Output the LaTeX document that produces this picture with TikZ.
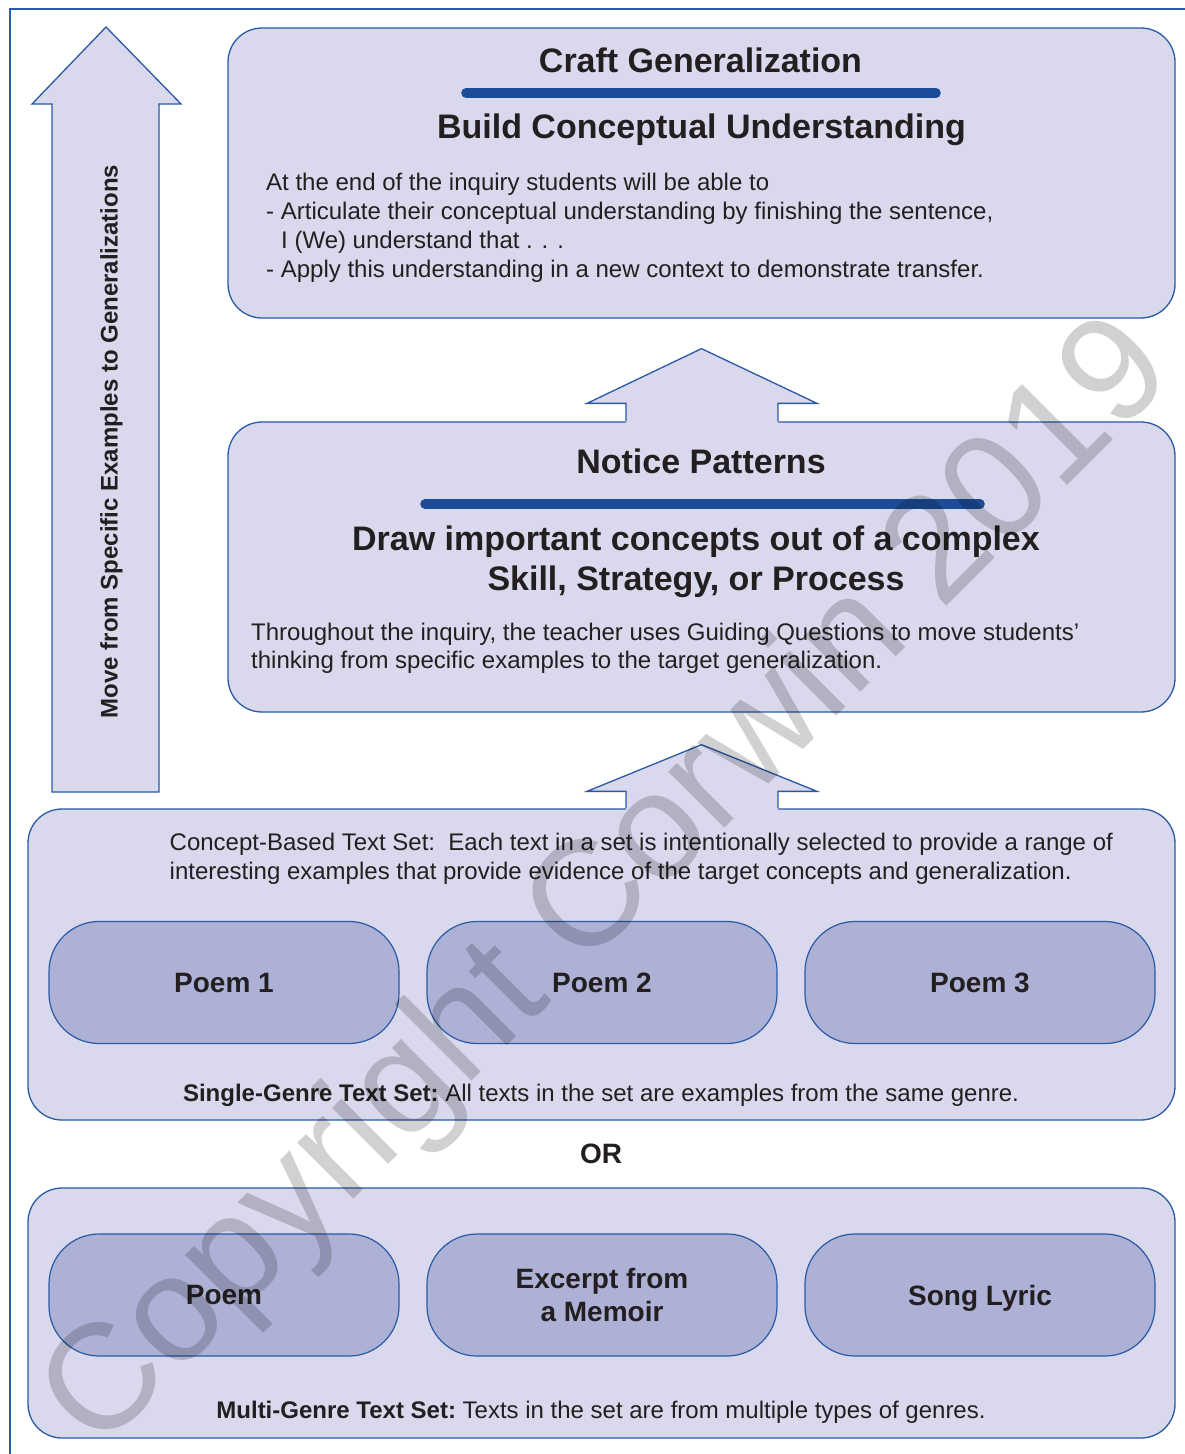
\documentclass[tikz,border=0pt]{standalone}
\usepackage{fontspec}
\setmainfont{Liberation Sans}
\usetikzlibrary{calc}
\definecolor{lav}{RGB}{217,216,236}
\definecolor{pillc}{RGB}{174,177,214}
\definecolor{bblue}{RGB}{40,90,165}
\definecolor{barblue}{RGB}{28,76,152}
\definecolor{txt}{RGB}{35,31,32}
\begin{document}
\begin{tikzpicture}[x=1pt,y=-1pt,
  box/.style={draw=bblue, fill=lav, line width=1.3pt, rounded corners=34pt, inner sep=0pt},
  pill/.style={draw=bblue, fill=pillc, line width=1.2pt, rounded corners=50pt,
     minimum width=350pt, minimum height=122pt, inner sep=0pt, text=txt,
     font=\bfseries\fontsize{28}{33}\selectfont, align=center},
  edge/.style={draw=bblue, line width=1.3pt},
  bar/.style={draw=barblue, line width=9.6pt, line cap=round},
  body/.style={text=txt, inner sep=0pt, font=\fontsize{24}{29}\selectfont},
  head/.style={text=txt, inner sep=0pt, font=\bfseries\fontsize{34}{40}\selectfont},
  sub/.style={text=txt, inner sep=0pt, font=\bfseries\fontsize{28}{33}\selectfont}]
\useasboundingbox (0,0) rectangle (1184,1454);
\fill[white] (0,0) rectangle (1184,1454);
% outer frame
\draw[draw=bblue, line width=2.6pt] (10,1470) -- (10,9) -- (1200,9);

% left big arrow
\draw[edge, fill=lav] (52,792) -- (52,104) -- (32,104) -- (106,27) -- (181,104) -- (159,104) -- (159,792) -- cycle;
\node[text=txt, inner sep=0pt, font=\bfseries\fontsize{24}{29}\selectfont, rotate=90, anchor=base] (movetxt) at (117.5,441.5) {Move from Specific Examples to Generalizations};

% boxes
\node[box, minimum width=947pt, minimum height=290pt] (top) at (701.5,173) {};
\node[box, minimum width=947pt, minimum height=290pt] (mid) at (701.5,567) {};
\node[box, minimum width=1147pt, minimum height=311pt] (set1) at (601.5,964.5) {};
\node[box, minimum width=1147pt, minimum height=250pt] (set2) at (601.5,1313) {};

% block arrow between mid and top
\coordinate (t1) at ($(top.south)+(0,30)$);
\coordinate (b1) at ($(mid.north)+(0.5,0)$);
\fill[lav] ($(b1)+(-76,2)$) -- ($(b1)+(-76,-18)$) -- ($(b1)+(-115,-18)$) -- (t1) -- ($(b1)+(115,-18)$) -- ($(b1)+(76,-18)$) -- ($(b1)+(76,2)$) -- cycle;
\draw[edge] ($(b1)+(-76,0)$) -- ($(b1)+(-76,-18)$) -- ($(b1)+(-115,-18)$) -- (t1) -- ($(b1)+(115,-18)$) -- ($(b1)+(76,-18)$) -- ($(b1)+(76,0)$);

% block arrow between set1 and mid
\coordinate (t2) at ($(mid.south)+(0,32)$);
\coordinate (m2) at ($(mid.south)+(0.5,0)$);
\coordinate (b2) at (m2 |- set1.north);
\fill[lav] ($(b2)+(-76,2)$) -- ($(b2)+(-76,-17)$) -- ($(b2)+(-115,-17)$) -- (t2) -- ($(b2)+(115,-17)$) -- ($(b2)+(76,-17)$) -- ($(b2)+(76,2)$) -- cycle;
\draw[edge] ($(b2)+(-76,0)$) -- ($(b2)+(-76,-17)$) -- ($(b2)+(-115,-17)$) -- (t2) -- ($(b2)+(115,-17)$) -- ($(b2)+(76,-17)$) -- ($(b2)+(76,0)$);

% top box content
\node[head, anchor=base] (craft) at (700.5,72) {Craft Generalization};
\draw[bar] (466,93) -- (936,93);
\node[head, anchor=base] (build) at (701.5,138.5) {Build Conceptual Understanding};
\node[body, anchor=base west] (tl1) at (266,190.5) {At the end of the inquiry students will be able to};
\node[body, anchor=base west] (tl2) at (266,219.5) {- Articulate their conceptual understanding by finishing the sentence,};
\node[body, anchor=base west] (tl3) at (281,248.5) {I (We) understand that . . .};
\node[body, anchor=base west] (tl4) at (266,277.5) {- Apply this understanding in a new context to demonstrate transfer.};

% middle box content
\node[head, anchor=base] (notice) at (701,473.5) {Notice Patterns};
\draw[bar] (425,504) -- (980,504);
\node[head, anchor=base] (draw1) at (696,550) {Draw important concepts out of a complex};
\node[head, anchor=base] (draw2) at (696,590) {Skill, Strategy, or Process};
\node[body, anchor=base west] (ml1) at (251,640) {Throughout the inquiry, the teacher uses Guiding Questions to move students’};
\node[body, anchor=base west] (ml2) at (251,668.5) {thinking from specific examples to the target generalization.};

% single-genre set
\node[body, anchor=base west] (sl1) at (169.5,850.7) {Concept-Based Text Set:\ \ Each text in a set is intentionally selected to provide a range of};
\node[body, anchor=base west] (sl2) at (169.5,879) {interesting examples that provide evidence of the target concepts and generalization.};
\node[pill] (p1) at (224,982.5) {Poem 1};
\node[pill] (p2) at (602,982.5) {Poem 2};
\node[pill] (p3) at (980,982.5) {Poem 3};
\node[body, anchor=base] (single) at (601,1101.7) {\textbf{Single-Genre Text Set:}~All texts in the set are examples from the same genre.};

\node[sub, anchor=base] (or) at (601,1163.3) {OR};

% multi-genre set
\node[pill] (q1) at (224,1295) {Poem};
\node[pill] (q2) at (602,1295) {Excerpt from\\a Memoir};
\node[pill, text depth=0pt, text height=20pt] (q3) at (980,1295) {Song Lyric};
\node[body, anchor=base] (multi) at (601,1418.3) {\textbf{Multi-Genre Text Set:}~Texts in the set are from multiple types of genres.};

% watermark
\node[text=black, opacity=0.18, inner sep=0pt, rotate=45, font=\fontsize{150}{155}\selectfont] (wm) at (611,887) {Copyright Corwin 2019};
\end{tikzpicture}
\end{document}
